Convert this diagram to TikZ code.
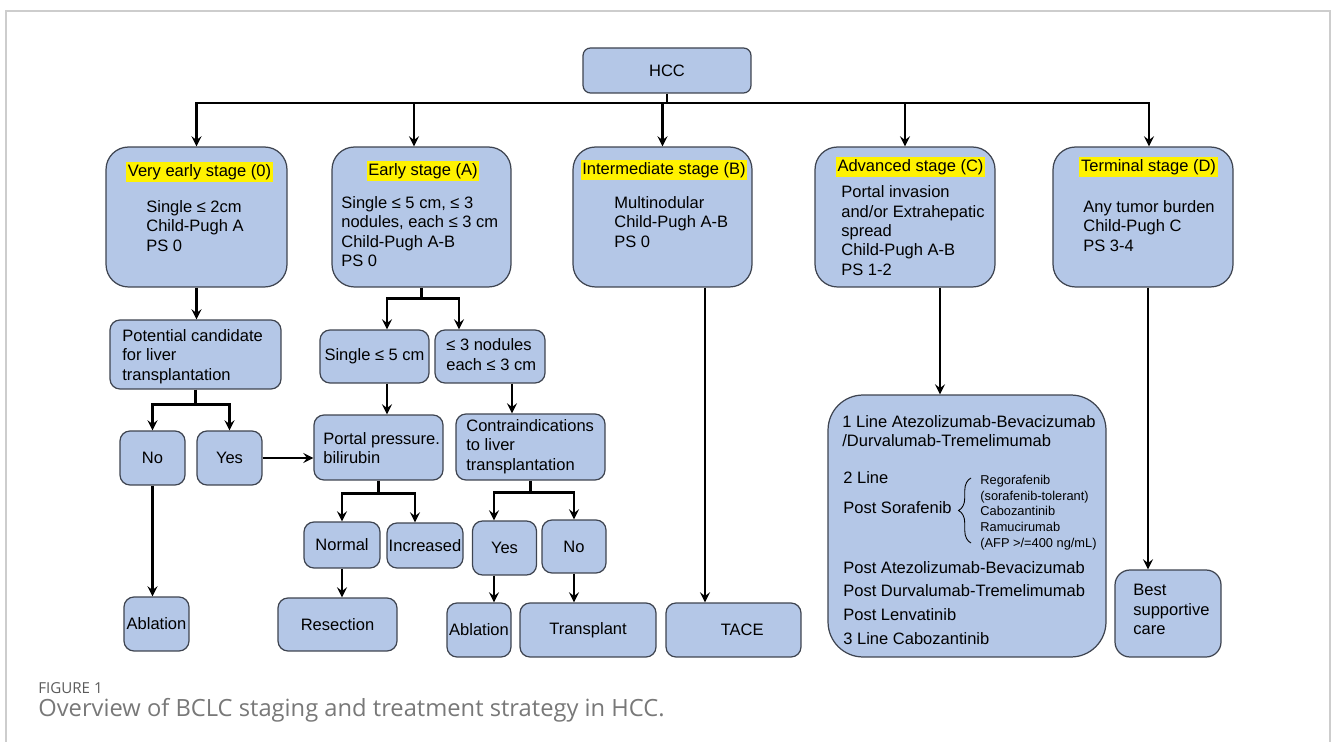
\documentclass[tikz,border=0pt]{standalone}
\usepackage{fontspec}
\setmainfont{Liberation Sans}
\newfontfamily\captionfont{Open Sans}
\usepackage{xcolor}
\usepackage{tikz}
\usetikzlibrary{shapes.geometric, arrows, decorations.pathreplacing}
\definecolor{boxblue}{RGB}{180,199,231}
\definecolor{boxedge}{RGB}{62,68,80}
\definecolor{framegray}{RGB}{205,205,205}
\definecolor{captiongray}{RGB}{120,120,120}
\tikzstyle{box} = [rectangle, draw=boxedge, fill=boxblue, line width=0.7pt, rounded corners=0.2cm, inner sep=0pt]
\tikzstyle{stagebox} = [box, minimum width=3.6cm, minimum height=2.8cm, rounded corners=0.45cm]
\tikzstyle{stagetitle} = [fill=yellow, inner xsep=1pt, inner ysep=1.5pt]
\tikzstyle{boxtext} = [align=left, inner sep=0pt, anchor=west]
\tikzstyle{arrow} = [line width=1.5pt,->,>=stealth]
\tikzstyle{connector} = [line width=1.5pt]

\begin{document}
\begin{tikzpicture}[x=0.02cm, y=-0.02cm, font=\fontsize{9.4}{11}\selectfont]
				\useasboundingbox (0,0) rectangle (1331,742);
				\draw [framegray, line width=0.04cm] (6,742) -- (6,11) -- (1330,11) -- (1330,742);
				
				\node (hcc) [box, minimum width=3.36cm, minimum height=0.9cm, rounded corners=0.15cm] at (667,70.5) {HCC};
				
				% stages
				\node (stage0) [stagebox, minimum width=3.62cm] at (196.5,217) {};
				\node (stageA) [stagebox, minimum width=3.58cm] at (421.5,217) {};
				\node (stageB) [stagebox, minimum width=3.58cm] at (662.5,217) {};
				\node (stageC) [stagebox] at (905,217) {};
				\node (stageD) [stagebox] at (1143,217) {};
				
				\node (title0) [stagetitle] at (199.5,172) {Very early stage (0)};
				\node (titleA) [stagetitle] at (423,171) {Early stage (A)};
				\node (titleB) [stagetitle] at (664,170) {Intermediate stage (B)};
				\node (titleC) [stagetitle] at (910.5,167) {Advanced stage (C)};
				\node (titleD) [stagetitle] at (1148.5,167) {Terminal stage (D)};
				
				\node (text0) [boxtext] at (146,226) {Single ≤ 2cm\\Child-Pugh A\\PS 0};
				\node (textA) [boxtext] at (341,231.5) {Single ≤ 5 cm, ≤ 3\\nodules, each ≤ 3 cm\\Child-Pugh A-B\\PS 0};
				\node (textB) [boxtext] at (614,222) {Multinodular\\Child-Pugh A-B\\PS 0};
				\node (textC) [boxtext] at (841,230.5) {Portal invasion\\and/or Extrahepatic\\spread\\Child-Pugh A-B\\PS 1-2};
				\node (textD) [boxtext] at (1083,226) {Any tumor burden\\Child-Pugh C\\PS 3-4};
				
				% very early and early branches
				\node (cand) [box, minimum width=3.42cm, minimum height=1.38cm] at (195.5,354.5) {};
				\node (candtext) [boxtext] at (122,356.5) {Potential candidate\\for liver\\transplantation};
				\node (single) [box, minimum width=2.18cm, minimum height=1.06cm] at (374.5,356.5) {Single ≤ 5 cm};
				\node (nodules) [box, minimum width=2.2cm, minimum height=1.06cm] at (490,356.5) {};
				\node (nodtext) [boxtext] at (446,354.5) {≤ 3 nodules\\each ≤ 3 cm};
				\node (no1) [box, minimum width=1.3cm, minimum height=1.08cm] at (152.5,458) {No};
				\node (yes1) [box, minimum width=1.3cm, minimum height=1.08cm] at (229.5,458) {Yes};
				\node (portal) [box, minimum width=2.58cm, minimum height=1.3cm] at (378.5,447.5) {};
				\node (portaltext) [boxtext] at (323,448) {Portal pressure.\\bilirubin};
				\node (contra) [box, minimum width=2.98cm, minimum height=1.32cm] at (530.5,447) {};
				\node (contratext) [boxtext] at (466,446.5) {Contraindications\\to liver\\transplantation};
				\node (normal) [box, minimum width=1.52cm, minimum height=0.92cm] at (342,545) {Normal};
				\node (increased) [box, minimum width=1.52cm, minimum height=0.9cm] at (425,545.5) {Increased};
				\node (yes2) [box, minimum width=1.28cm, minimum height=1.08cm] at (504.5,548) {Yes};
				\node (no2) [box, minimum width=1.28cm, minimum height=1.06cm] at (574,546.5) {No};
				
				% treatments
				\node (ablation1) [box, minimum width=1.3cm, minimum height=1.08cm] at (156.5,624) {Ablation};
				\node (resection) [box, minimum width=2.38cm, minimum height=1.06cm] at (337.5,624.5) {Resection};
				\node (ablation2) [box, minimum width=1.28cm, minimum height=1.08cm] at (479,630) {Ablation};
				\node (transplant) [box, minimum width=2.72cm, minimum height=1.08cm] at (588,630) {Transplant};
				\node (tace) [box, minimum width=2.7cm, minimum height=1.08cm] at (733.5,630) {\hspace{0.35cm}TACE};
				\node (systemic) [box, minimum width=5.56cm, minimum height=5.24cm, rounded corners=0.7cm] at (967,526) {};
				\node (best) [box, minimum width=2.12cm, minimum height=1.74cm, rounded corners=0.3cm] at (1168,613.5) {};
				\node (besttext) [boxtext] at (1133,609.5) {Best\\supportive\\care};
				
				% systemic therapy lines
				\node (line1) [boxtext] at (842,431) {1 Line Atezolizumab-Bevacizumab\\/Durvalumab-Tremelimumab};
				\node (line2) [boxtext] at (843,478) {2 Line};
				\node (sorafenib) [boxtext] at (843,508) {Post Sorafenib};
				\node (druglist) [boxtext, font=\fontsize{7.3}{8.9}\selectfont] at (980,512.5) {Regorafenib\\(sorafenib-tolerant)\\Cabozantinib\\Ramucirumab\\(AFP >/=400 ng/mL)};
				\node (postlist) [boxtext, font=\fontsize{9.4}{13.6}\selectfont] at (843,603) {Post Atezolizumab-Bevacizumab\\Post Durvalumab-Tremelimumab\\Post Lenvatinib\\3 Line Cabozantinib};
				\draw [decorate, decoration={brace, amplitude=0.25cm}, line width=0.5pt] (971,543) -- (971,478);
				
				\node (figlabel) [anchor=west, inner sep=0pt, font=\captionfont\fontsize{8.6}{10}\selectfont, text=captiongray!75!black] at (38,688.5) {FIGURE 1};
				\node (figcaption) [anchor=west, inner sep=0pt, font=\captionfont\fontsize{13.5}{16}\selectfont, text=captiongray] at (38,710) {Overview of BCLC staging and treatment strategy in HCC.};
				
				\coordinate (bus) at (667,103);
				\draw [connector] (hcc) -- (bus);
				\draw [arrow] (bus) -| (stage0.north);
				\draw [arrow] (bus) -| ([xshift=-0.15cm]stageA.north);
				\draw [arrow] (bus) -| (stageB.north);
				\draw [arrow] (bus) -| (stageC.north);
				\draw [arrow] (bus) -| ([xshift=0.12cm]stageD.north);
				
				\draw [arrow] (stage0.south) -- (stage0.south |- cand.north);
				\draw [connector] (stageA.south) -- ++(0,11) coordinate (splitA);
				\draw [arrow] (splitA) -| ([xshift=0.25cm]single.north);
				\draw [arrow] (splitA) -| ([xshift=-0.62cm]nodules.north);
				\draw [connector] (cand.south) -- ++(0,15) coordinate (splitC);
				\draw [arrow] (splitC) -| (no1.north);
				\draw [arrow] (splitC) -| (yes1.north);
				\draw [arrow] (yes1.east) -- (yes1.east -| portal.west);
				\draw [arrow] ([xshift=0.25cm]single.south) -- ([xshift=0.25cm]single.south |- portal.north);
				\draw [arrow] ([xshift=0.44cm]nodules.south) -- ([xshift=0.44cm]nodules.south |- contra.north);
				\draw [connector] (portal.south) -- ++(0,13) coordinate (splitP);
				\draw [arrow] (splitP) -| (normal.north);
				\draw [arrow] (splitP) -| ([xshift=-0.2cm]increased.north);
				\draw [connector] (contra.south) -- ++(0,12) coordinate (splitT);
				\draw [arrow] (splitT) -| ([xshift=-0.21cm]yes2.north);
				\draw [arrow] (splitT) -| (no2.north);
				\draw [arrow] (no1.south) -- (no1.south |- ablation1.north);
				\draw [arrow] (normal.south) -- (normal.south |- resection.north);
				\draw [arrow] ([xshift=-0.21cm]yes2.south) -- ([xshift=-0.21cm]yes2.south |- ablation2.north);
				\draw [arrow] (no2.south) -- (no2.south |- transplant.north);
				\draw [arrow] ([xshift=0.85cm]stageB.south) -- ([xshift=0.85cm]stageB.south |- tace.north);
				\draw [arrow] ([xshift=0.7cm]stageC.south) -- ([xshift=0.7cm]stageC.south |- systemic.north);
				\draw [arrow] ([xshift=0.1cm]stageD.south) -- ([xshift=0.1cm]stageD.south |- best.north);
				
\end{tikzpicture}
\end{document}
